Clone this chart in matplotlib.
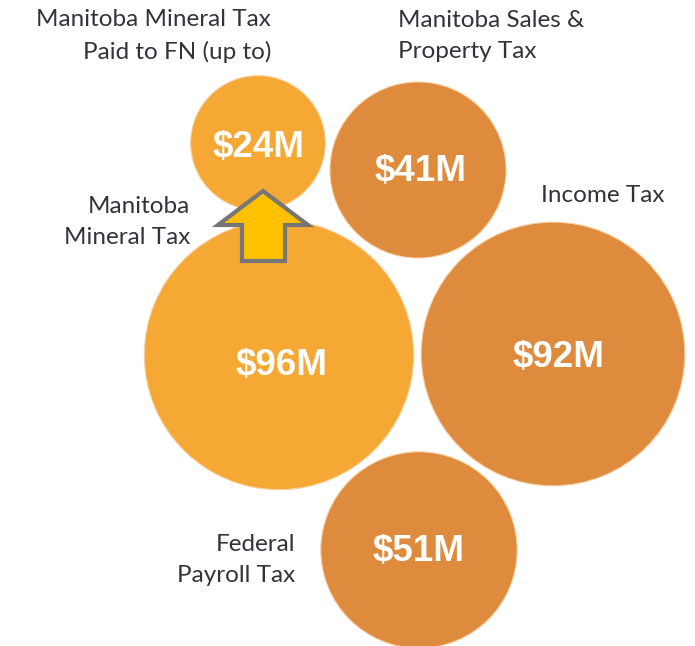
import numpy as np
import matplotlib.pyplot as plt
from matplotlib.patches import Circle, Polygon

# values in $M
values = [24, 41, 96, 92, 51]
value_labels = ["$24M", "$41M", "$96M", "$92M", "$51M"]
names = ["Manitoba Mineral Tax\nPaid to FN (up to)", "Manitoba Sales &\nProperty Tax",
         "Manitoba\nMineral Tax", "Income Tax", "Federal\nPayroll Tax"]

# layout (pixel space, origin top-left)
centers = [(258, 143), (418, 170), (279, 355), (553, 354), (419, 550)]
label_offsets = [(1, 5), (3, 2), (3, 11), (6, 4), (0, 2)]
name_pos = [(271, 36, "right"), (398, 36, "left"), (190, 222, "right"),
            (541, 195, "left"), (295, 560, "right")]
colors = ["#F5A833", "#DE8B3E", "#F5A833", "#DE8B3E", "#DE8B3E"]
px_per_sqrt = 13.75

fig = plt.figure(figsize=(6.95, 6.46), dpi=100)
ax = fig.add_axes([0, 0, 1, 1])
ax.set_xlim(0, 695)
ax.set_ylim(646, 0)
ax.set_aspect("equal")
ax.axis("off")

for v, (cx, cy), c, lab, (dx, dy) in zip(values, centers, colors, value_labels, label_offsets):
    r = px_per_sqrt * np.sqrt(v)
    ax.add_patch(Circle((cx, cy), r, facecolor=c, edgecolor="#F8D2A8", lw=0.8, zorder=1))
    ax.text(cx + dx, cy + dy, lab, color="white", fontsize=26.5, fontweight="bold",
            family="Liberation Sans", ha="center", va="center", zorder=3)

for name, (x, y, ha) in zip(names, name_pos):
    ax.text(x, y, name, ha=ha, va="center", fontsize=17.5, family="Lato",
            color="#30343c", linespacing=1.6, zorder=3)

# arrow from the mineral tax bubble up to the FN share
arrow = [(263, 191), (308, 225), (285, 225), (285, 261), (242, 261), (242, 225), (218, 225)]
ax.add_patch(Polygon(arrow, closed=True, facecolor="#FFC000", edgecolor="#767676",
                     lw=3, joinstyle="miter", zorder=2))

fig.savefig("out.png", dpi=100)
